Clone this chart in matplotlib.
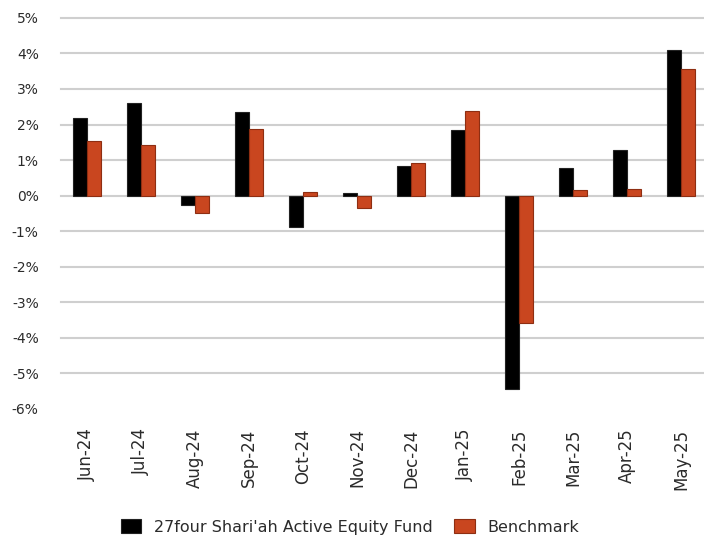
import matplotlib
matplotlib.use("Agg")
import matplotlib.pyplot as plt
import numpy as np

months = ["Jun-24", "Jul-24", "Aug-24", "Sep-24", "Oct-24", "Nov-24",
          "Dec-24", "Jan-25", "Feb-25", "Mar-25", "Apr-25", "May-25"]
fund = [2.19, 2.61, -0.25, 2.36, -0.87, 0.08, 0.84, 1.85, -5.45, 0.79, 1.29, 4.10]
bench = [1.55, 1.43, -0.48, 1.88, 0.11, -0.34, 0.93, 2.39, -3.57, 0.17, 0.20, 3.57]
yticks = [5, 4, 3, 2, 1, 0, -1, -2, -3, -4, -5, -6]
fund_name = "27four Shari'ah Active Equity Fund"
bench_name = "Benchmark"

plt.rcParams['font.family'] = ['DejaVu Sans']
txt = "#2b2b2b"

fig = plt.figure(figsize=(7.04, 5.41), dpi=100)
ax = fig.add_axes([0.0866, 0.244, 0.913, 0.723])

x = np.arange(len(months))
w = 0.26
ax.bar(x - w/2, fund, w, color="black", edgecolor="#222222", linewidth=0.8,
       label=fund_name, zorder=3)
ax.bar(x + w/2, bench, w, color="#C9461F", edgecolor="#8E2E12", linewidth=0.8,
       label=bench_name, zorder=3)

ax.set_ylim(-6, 5)
ax.set_xlim(-0.48, 11.42)
ax.set_yticks(yticks)
ax.set_yticklabels([f"{v}%" for v in yticks], fontsize=10, color=txt)
ax.set_xticks(x)
ax.set_xticklabels(months, rotation=90, fontsize=12, color=txt)
ax.tick_params(axis='both', length=0)
ax.tick_params(axis='x', pad=14)
ax.tick_params(axis='y', pad=16)

for v in yticks:
    if v > -6:
        ax.axhline(v, color="#cfcfcf", linewidth=1.5, zorder=1, clip_on=False)
for s in ax.spines.values():
    s.set_visible(False)

fig.legend(loc="center", bbox_to_anchor=(0.497, 0.026), ncol=2, frameon=False,
           fontsize=11.5, handlelength=1.3, handleheight=0.9, handletextpad=0.8,
           columnspacing=1.3, labelcolor=txt, borderpad=0)

fig.savefig("out.png", dpi=100)
